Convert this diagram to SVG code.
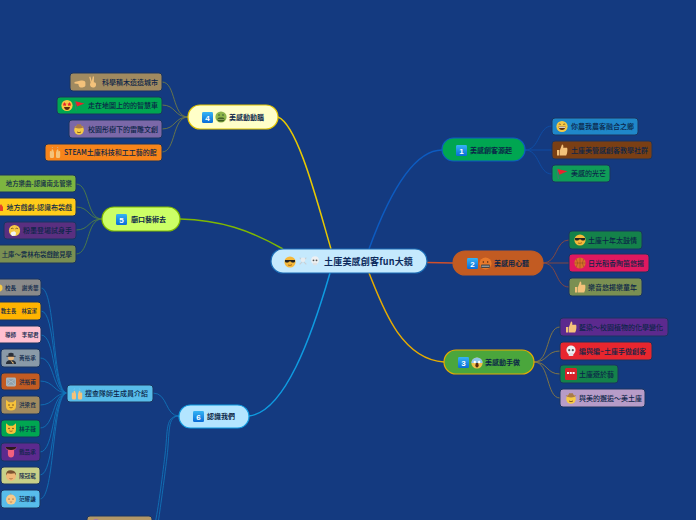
<svg xmlns="http://www.w3.org/2000/svg" width="696" height="520" viewBox="0 0 696 520">
<style>
text{font-family:"Noto Sans CJK TC","Noto Sans CJK SC","Liberation Sans",sans-serif;font-size:7px;font-weight:500;fill:#0b2548}
.m{font-size:7px;font-weight:700}
.s{font-size:5.6px}
.n{font-size:6.4px}
.p{font-size:5.2px}
.c{font-size:9px;font-weight:700;fill:#0c2a5c;letter-spacing:.2px}
.k{font-size:8px;font-weight:700;fill:#fff;text-anchor:middle;font-family:"Liberation Sans",sans-serif}
.e{text-anchor:end}
.leaf{stroke:#1b3560;stroke-width:1}
.main{stroke-width:1.2}
#connectors path{fill:none}
.t1{stroke-width:1.5}
.t2{stroke-width:.9}
</style>
<defs>
<linearGradient id="kg" x1="0" y1="0" x2="0" y2="1"><stop offset="0" stop-color="#35b4f4"/><stop offset="1" stop-color="#0a6cd8"/></linearGradient>
<symbol id="key" viewBox="0 0 12 12"><rect width="12" height="12" rx="1.5" fill="url(#kg)"/></symbol>
<symbol id="cool" viewBox="0 0 12 12"><circle cx="6" cy="6" r="5.6" fill="#f6b93a"/><path d="M1 4h10v1.4c-.6 1.6-3.4 1.6-4 0h-2c-.6 1.6-3.4 1.6-4 0z" fill="#222"/><path d="M4 9q2 1 4-.3" stroke="#8a4a10" fill="none" stroke-width=".7"/></symbol>
<symbol id="skull" viewBox="0 0 12 12"><circle cx="6" cy="5" r="4.6" fill="#eef0f2"/><rect x="3.6" y="8" width="4.8" height="3" rx=".8" fill="#dfe2e5"/><circle cx="4.2" cy="5.2" r="1.1" fill="#555"/><circle cx="7.8" cy="5.2" r="1.1" fill="#555"/></symbol>
<symbol id="bones" viewBox="0 0 12 12"><path d="M2 2l8 8M10 2l-8 8" stroke="#c8d0d6" stroke-width="1.4"/><circle cx="6" cy="4.6" r="2.8" fill="#e8ecef"/></symbol>
<symbol id="grin" viewBox="0 0 12 12"><circle cx="6" cy="6" r="5.6" fill="#f6c945"/><path d="M2.6 6h6.8q-.4 3.6-3.4 3.6T2.6 6z" fill="#5a3010"/><path d="M3 6.2h6v1H3z" fill="#fff"/><path d="M2.8 4q1-1 2 0M7.2 4q1-1 2 0" stroke="#5a3010" fill="none" stroke-width=".7"/></symbol>
<symbol id="thumb" viewBox="0 0 12 12"><path d="M1 6h2.4v5.4H1zM4 6l2-5.4c1.4 0 1.6 1.4 1.2 3.2H11c.8 1 .4 6-.8 7.6H4z" fill="#f4c27a"/></symbol>
<symbol id="flag" viewBox="0 0 12 12"><path d="M1.4 1.4L11.4 3.8 3.4 7.2z" fill="#e9232e"/><path d="M1 1l1.4 10.4" stroke="#667" stroke-width=".7"/></symbol>
<symbol id="angry" viewBox="0 0 12 12"><circle cx="6" cy="6" r="5.6" fill="#e8792a"/><rect x="1.8" y="7" width="8.4" height="3.2" rx="1" fill="#444"/><path d="M2.4 8.5h7.2" stroke="#ddd" stroke-width=".7"/><circle cx="4" cy="4.6" r=".7" fill="#421"/><circle cx="8" cy="4.6" r=".7" fill="#421"/></symbol>
<symbol id="ball" viewBox="0 0 12 12"><circle cx="6" cy="6" r="5.6" fill="#d9702a"/><path d="M6 .4v11.2M.4 6h11.2M2.2 2q3 4 0 8M9.8 2q-3 4 0 8" stroke="#8a4a1c" fill="none" stroke-width=".5"/></symbol>
<symbol id="scream" viewBox="0 0 12 12"><circle cx="6" cy="6" r="5.6" fill="#f1c24a"/><path d="M.4 6a5.6 5.6 0 0 1 11.2 0z" fill="#8fc6ea"/><ellipse cx="6" cy="8.2" rx="1.6" ry="2.4" fill="#5a2a10"/><circle cx="3.8" cy="5" r="1.2" fill="#fff"/><circle cx="8.2" cy="5" r="1.2" fill="#fff"/></symbol>
<symbol id="sos" viewBox="0 0 12 12"><rect width="12" height="12" rx="1.5" fill="#d8232a"/><path d="M2 5h8" stroke="#fff" stroke-width="2" stroke-dasharray="2 .8"/></symbol>
<symbol id="cowboy" viewBox="0 0 12 12"><circle cx="6" cy="7" r="4.8" fill="#f6c945"/><path d="M.6 3q2 1.2 2.8 0 .6-2.6 2.6-1.6 2-1 2.6 1.6 .8 1.2 2.8 0-1 2.4-5.4 2.4T.6 3z" fill="#a87a4a"/><path d="M4 9q2 1.4 4 0" stroke="#5a3010" fill="none" stroke-width=".7"/></symbol>
<symbol id="sick" viewBox="0 0 12 12"><circle cx="6" cy="6" r="5.6" fill="#8fb54a"/><rect x="2.6" y="6.4" width="6.8" height="4" rx="1.6" fill="#3a5a20"/><path d="M3 8.4h6" stroke="#c8d88a" stroke-width=".6"/><circle cx="4" cy="4" r=".7" fill="#243"/><circle cx="8" cy="4" r=".7" fill="#243"/></symbol>
<symbol id="point" viewBox="0 0 12 12"><path d="M.5 5L7 3.6c1.6-.6 4.4 0 4.4 2v3c0 1.4-2.4 2-4.4 2-1.6 0-2.4-1.4-2.6-3.6L.5 6.4z" fill="#f4c27a"/></symbol>
<symbol id="peace" viewBox="0 0 12 12"><path d="M3.4 .6l1.4 5 1-5.2h1.2l-.2 5.8c2 .2 2.4 1 2.2 3-.2 1.6-1.4 2.4-3 2.4s-3-1-3-3l.6-2.4L2.2 1z" fill="#f4c27a"/></symbol>
<symbol id="stars" viewBox="0 0 12 12"><circle cx="6" cy="6" r="5.6" fill="#f6c945"/><path d="M3.6 2.6l.7 1.4 1.4.2-1 1 .2 1.4-1.3-.7-1.3.7.2-1.4-1-1 1.4-.2zM8.4 2.6l.7 1.4 1.4.2-1 1 .2 1.4-1.3-.7-1.3.7.2-1.4-1-1 1.4-.2z" fill="#e5232e"/><path d="M3 7.6h6q-.6 3-3 3t-3-3z" fill="#5a2a10"/></symbol>
<symbol id="hands" viewBox="0 0 12 12"><path d="M.8 5.4c0-1 1.4-1.4 1.8-.4V3.4c0-1 1.4-1 1.6 0l.8 2.6v4c0 1-.6 1.6-1.6 1.6H2.4C1.2 11.6.8 10.6.8 9.4zM11.2 5.4c0-1-1.4-1.4-1.8-.4V3.4c0-1-1.4-1-1.6 0L7 6v4c0 1 .6 1.6 1.6 1.6h1c1.2 0 1.6-1 1.6-2.2z" fill="#f4c27a"/><path d="M3 1.6l.6-1M9 1.6l-.6-1" stroke="#9fd6ef" stroke-width=".6"/></symbol>
<symbol id="sneeze" viewBox="0 0 12 12"><circle cx="6" cy="6" r="5.6" fill="#f6c945"/><path d="M2.6 4.2q1.2-1 2.4 0M7 4.2q1.2-1 2.4 0" stroke="#5a3010" fill="none" stroke-width=".7"/><path d="M3 7.4l2.8-.6 1.8 1.4-.6 2.8-3.4.4-1.6-2z" fill="#f2f4f6"/></symbol>
<symbol id="spy" viewBox="0 0 12 12"><path d="M1 12c0-3 2-4 5-4s5 1 5 4z" fill="#2a2f38"/><circle cx="6" cy="5.6" r="3" fill="#e8b87e"/><path d="M1.4 3.8h9.2v.9H1.4zM3.4 4V1.4Q6 .2 8.6 1.4V4z" fill="#2a2f38"/><path d="M6 8.4l3 2.6-1 1-2-3z" fill="#f4c27a"/></symbol>
<symbol id="robot" viewBox="0 0 12 12"><rect x="1" y="2" width="10" height="9" rx="1.4" fill="#a8b4bc"/><rect x="2.4" y="3.6" width="7.2" height="5.6" fill="#8fa0ac"/><path d="M2.4 3.6l3.6 3 3.6-3M2.4 9.2l2.6-3M9.6 9.2l-2.6-3" stroke="#cdd6dc" stroke-width=".5" fill="none"/></symbol>
<symbol id="cat" viewBox="0 0 12 12"><path d="M1 .8l3 2.4h4l3-2.4V7q0 4.6-5 4.6T1 7z" fill="#f6c23a"/><circle cx="4" cy="6" r=".7" fill="#5a3010"/><circle cx="8" cy="6" r=".7" fill="#5a3010"/><path d="M4.4 8.4q1.6 1 3.2 0" stroke="#5a3010" fill="none" stroke-width=".6"/></symbol>
<symbol id="tongue" viewBox="0 0 12 12"><path d="M.5 1h11c0 1.6-1 2.6-2.4 2.8V8c0 2.4-1.4 3.6-3.1 3.6S2.9 10.4 2.9 8V3.8C1.5 3.6.5 2.6.5 1z" fill="#f2607e"/><path d="M.5 1h11c-.4 2-2.4 3-5.500 3S.9 3 .5 1z" fill="#2a1a20"/></symbol>
<symbol id="boy" viewBox="0 0 12 12"><circle cx="6" cy="6.400" r="5" fill="#f0b878"/><path d="M1 6Q.8 .6 6 .8T11 6L9.600 3.800Q6 4.600 2.400 3.800z" fill="#7a5230"/><path d="M4.400 9q1.600 1 3.200 0" stroke="#8a4a20" fill="none" stroke-width=".6"/></symbol>
<symbol id="baby" viewBox="0 0 12 12"><circle cx="6" cy="6.600" r="5" fill="#f6c98a"/><path d="M6 1.600q-1-.8 0-1.400" stroke="#c08a50" fill="none" stroke-width=".6"/><circle cx="4" cy="6" r=".6" fill="#5a3010"/><circle cx="8" cy="6" r=".6" fill="#5a3010"/><path d="M4.800 8.800q1.200.8 2.400 0" stroke="#a05a30" fill="none" stroke-width=".6"/></symbol>
</defs>
<rect width="696" height="520" fill="#143a80"/>
<g id="connectors">
<path class="t1" stroke="#0d5bc0" d="M369 249C385 205 410 150 442 150"/>
<path class="t1" stroke="#d0502a" d="M427 262.500L453 263"/>
<path class="t1" stroke="#e6ac00" d="M369 273C382 305 400 359 444 362"/>
<path class="t1" stroke="#e8c800" d="M331 249C318 205 298 125 278 117"/>
<path class="t1" stroke="#7fb800" d="M283 249C250 230 220 220 180 219"/>
<path class="t1" stroke="#0f9be0" d="M330 273C312 335 285 412 249 416"/>
<g class="t2" stroke="#0e4fa8">
<path d="M525 150C540 150 538 126 552 126"/><path d="M525 150H552"/><path d="M525 150C540 150 538 174 552 174"/>
</g>
<g class="t2" stroke="#8d4a3c">
<path d="M543 263C558 263 555 240 569 240"/><path d="M543 263H569"/><path d="M543 263C558 263 555 287 569 287"/>
</g>
<g class="t2" stroke="#8a7a40">
<path d="M534 362C550 362 546 327 560 327"/><path d="M534 362C548 362 546 351 560 351"/><path d="M534 362C548 362 546 374 560 374"/><path d="M534 362C550 362 546 398 560 398"/>
</g>
<g class="t2" stroke="#6f7a44">
<path d="M188 117C172 117 176 82 162 82"/><path d="M188 117C174 117 176 105 162 105"/><path d="M188 117C174 117 176 129 162 129"/><path d="M188 117C172 117 176 152 162 152"/>
</g>
<g class="t2" stroke="#4f7f44">
<path d="M102 219C86 219 90 184 76 184"/><path d="M102 219C88 219 90 207 76 207"/><path d="M102 219C88 219 90 230 76 230"/><path d="M102 219C86 219 90 254 76 254"/>
</g>
<g class="t2" stroke="#1173b8">
<path d="M179 416C165 416 168 393 153 393"/>
<path d="M179 416C165 416 168 430 165 455S158 510 155 524"/>
<path d="M179 416C167 416 170 432 167 457S160 510 158 524"/>
<path d="M67 393C52 393 56 288 41 288"/><path d="M67 393C52 393 56 311 41 311"/><path d="M67 393C52 393 56 335 41 335"/><path d="M67 393C52 393 55 358 40 358"/><path d="M67 393C54 393 54 381 40 381"/><path d="M67 393C54 393 54 405 40 405"/><path d="M67 393C52 393 55 428 40 428"/><path d="M67 393C52 393 55 452 40 452"/><path d="M67 393C52 393 55 475 40 475"/><path d="M67 393C52 393 55 499 40 499"/>
</g>
</g>

<g id="center"><rect class="main" x="271" y="249" width="156" height="24" rx="12" fill="#c5e9fd" stroke="#1a6cb5"/><use href="#cool" x="284" y="256" width="12" height="12"/><use href="#bones" x="298" y="256" width="10" height="10"/><use href="#skull" x="310" y="256" width="10" height="10"/><text class="c" x="324" y="264.500">土庫美感創客fun大鏡</text></g>

<g id="n1"><rect class="main" x="442" y="138" width="83" height="23" rx="11.500" fill="#00a651" stroke="#0d5bc0"/><use href="#key" x="456" y="145" width="11" height="11"/><text class="k" x="461.500" y="153.500">1</text><text class="m" x="470" y="152.500">美感創客源起</text></g>
<g id="n1a"><rect class="leaf" x="552" y="118" width="86" height="17" rx="3" fill="#1f87c9"/><use href="#grin" x="556" y="120.500" width="12" height="12"/><text x="571" y="129">你農我農客融合之鄉</text></g>
<g id="n1b"><rect class="leaf" x="552" y="141" width="100" height="18" rx="3" fill="#7a3f14"/><use href="#thumb" x="556" y="144" width="12" height="12"/><text x="571" y="152.500">土庫美管感創客教學社群</text></g>
<g id="n1c"><rect class="leaf" x="552" y="165" width="58" height="17" rx="3" fill="#0f9d58"/><use href="#flag" x="556" y="167.500" width="12" height="12"/><text x="571" y="176">美感的光芒</text></g>

<g id="n2"><rect class="main" x="453" y="251" width="90" height="24" rx="12" fill="#c25b22" stroke="#c25b22"/><use href="#key" x="467" y="258" width="11" height="11"/><text class="k" x="472.500" y="266.500">2</text><use href="#angry" x="479" y="257" width="13" height="13"/><text class="m" x="494" y="265.500">美感用心聽</text></g>
<g id="n2a"><rect class="leaf" x="569" y="231" width="73" height="18" rx="3" fill="#14824a"/><use href="#cool" x="574" y="234" width="12" height="12"/><text x="588" y="242.500">土庫十年太鼓情</text></g>
<g id="n2b"><rect class="leaf" x="569" y="254" width="80" height="18" rx="3" fill="#e0185f"/><use href="#ball" x="574" y="257" width="12" height="12"/><text x="588" y="265.500">日光稻香陶笛悠揚</text></g>
<g id="n2c"><rect class="leaf" x="569" y="278" width="73" height="18" rx="3" fill="#7a8f52"/><use href="#thumb" x="574" y="281" width="12" height="12"/><text x="588" y="289.500">樂音悠揚樂童年</text></g>

<g id="n3"><rect class="main" x="444" y="350" width="90" height="24" rx="12" fill="#4aa63c" stroke="#e6ac00"/><use href="#key" x="458" y="357" width="11" height="11"/><text class="k" x="463.500" y="365.500">3</text><use href="#scream" x="471" y="357" width="12" height="12"/><text class="m" x="485" y="364.500">美感動手做</text></g>
<g id="n3a"><rect class="leaf" x="560" y="318" width="108" height="18" rx="3" fill="#5c2a8e"/><use href="#thumb" x="565" y="321" width="12" height="12"/><text x="579" y="329.500">藍染～校園植物的化學變化</text></g>
<g id="n3b"><rect class="leaf" x="560" y="342" width="92" height="18" rx="3" fill="#e8262e"/><use href="#skull" x="565" y="345" width="12" height="12"/><text x="579" y="353.500">編與編~土庫手做創客</text></g>
<g id="n3c"><rect class="leaf" x="560" y="365" width="58" height="18" rx="3" fill="#14824a"/><use href="#sos" x="565" y="368" width="12" height="12"/><text x="579" y="376.500">土庫遊於藝</text></g>
<g id="n3d"><rect class="leaf" x="560" y="389" width="85" height="18" rx="3" fill="#b79cc8"/><use href="#cowboy" x="565" y="392" width="12" height="12"/><text x="579" y="400.500">與美的邂逅～美土庫</text></g>

<g id="n4"><rect class="main" x="188" y="105" width="90" height="24" rx="12" fill="#ffffc8" stroke="#e0c400"/><use href="#key" x="202" y="112" width="11" height="11"/><text class="k" x="207.500" y="120.500">4</text><use href="#sick" x="215" y="111" width="12" height="12"/><text class="m" x="229" y="119.500">美感動動腦</text></g>
<g id="n4a"><rect class="leaf" x="70" y="73" width="92" height="18" rx="3" fill="#a08a60"/><use href="#point" x="74" y="77" width="12" height="12"/><use href="#peace" x="87" y="76" width="12" height="12"/><text x="102" y="84.500">科學積木造造城市</text></g>
<g id="n4b"><rect class="leaf" x="57" y="97" width="105" height="17" rx="3" fill="#00a651"/><use href="#stars" x="61" y="99.500" width="12" height="12"/><use href="#flag" x="74" y="100" width="11" height="11"/><text x="88" y="108">走在地圖上的的智慧車</text></g>
<g id="n4c"><rect class="leaf" x="69" y="120" width="93" height="18" rx="3" fill="#7b68a8"/><use href="#cowboy" x="73" y="123" width="12" height="12"/><text x="88" y="131.500">校園彤樹下的雷雕文創</text></g>
<g id="n4d"><rect class="leaf" x="45" y="144" width="117" height="17" rx="3" fill="#f7841a"/><use href="#hands" x="49" y="146.500" width="12" height="12"/><text x="64" y="155">STEAM土庫科技和工工藝的館</text></g>

<g id="n5"><rect class="main" x="102" y="207" width="78" height="24" rx="12" fill="#ccff66" stroke="#7fb800"/><use href="#key" x="116" y="214" width="11" height="11"/><text class="k" x="121.500" y="222.500">5</text><text class="m" x="131" y="221.500">廟口藝術去</text></g>
<g id="n5a"><rect class="leaf" x="-12" y="175" width="88" height="17" rx="3" fill="#7db540"/><text class="e n" x="72" y="186">地方樂曲-認識南北管樂</text></g>
<g id="n5b"><rect class="leaf" x="-12" y="198" width="88" height="18" rx="3" fill="#ffcc1a"/><path d="M-1 207h4v4h-4zM1 204l2 3h-4z" fill="#e8402a"/><text class="e" x="72" y="209.500">地方戲劇-認識布袋戲</text></g>
<g id="n5c"><rect class="leaf" x="4" y="222" width="72" height="17" rx="3" fill="#5a2f80"/><use href="#sneeze" x="8.500" y="224.500" width="12" height="12"/><text x="23" y="233">粉墨登場試身手</text></g>
<g id="n5d"><rect class="leaf" x="-12" y="245" width="88" height="18" rx="3" fill="#7a8f52"/><text class="e n" x="72" y="256.500">土庫～雲林布袋戲館見學</text></g>

<g id="n6"><rect class="main" x="179" y="405" width="70" height="23" rx="11.500" fill="#b3e5ff" stroke="#0f9be0"/><use href="#key" x="193" y="411" width="11" height="11"/><text class="k" x="198.500" y="419.500">6</text><text class="m" x="207" y="419">認識我們</text></g>
<g id="n6a"><rect class="leaf" x="67" y="385" width="86" height="17" rx="3" fill="#58bdea"/><use href="#hands" x="71" y="388" width="12" height="12"/><text x="85" y="396">搜查隊師生成員介紹</text></g>
<g id="n6b"><rect class="leaf" x="87" y="516" width="65" height="18" rx="3" fill="#b39868"/><circle cx="96" cy="522" r="3" fill="#a070b0"/></g>

<g id="p1"><rect class="leaf" x="-10" y="279" width="51" height="17" rx="3" fill="#8a8a8a"/><circle cx="-1" cy="288" r="3.500" fill="#f6c945"/><text class="s" x="5" y="289.500">校長　謝秀華</text></g>
<g id="p2"><rect class="leaf" x="-10" y="302" width="51" height="18" rx="3" fill="#ffb300"/><text class="p e" x="37" y="313">教主長　林宜潔</text></g>
<g id="p3"><rect class="leaf" x="-10" y="326" width="51" height="17" rx="3" fill="#ffc0d0"/><text class="s" x="5" y="336.500">導師　李郁君</text></g>
<g id="p4"><rect class="leaf" x="1" y="349" width="39" height="18" rx="3" fill="#8a9aa8"/><use href="#spy" x="5" y="352" width="12" height="12"/><text class="s" x="19" y="360">黃裕承</text></g>
<g id="p5"><rect class="leaf" x="1" y="373" width="39" height="17" rx="3" fill="#c25b22"/><use href="#robot" x="5" y="375.500" width="12" height="12"/><text class="s" x="19" y="383.500">洪裕甫</text></g>
<g id="p6"><rect class="leaf" x="1" y="396" width="39" height="18" rx="3" fill="#a08a60"/><use href="#cat" x="5" y="399" width="12" height="12"/><text class="s" x="19" y="407">洪梁霓</text></g>
<g id="p7"><rect class="leaf" x="1" y="420" width="39" height="17" rx="3" fill="#00a651"/><use href="#cat" x="5" y="422.500" width="12" height="12"/><text class="s" x="19" y="430.500">林子薇</text></g>
<g id="p8"><rect class="leaf" x="1" y="443" width="39" height="18" rx="3" fill="#5c2a8e"/><use href="#tongue" x="5" y="446" width="12" height="12"/><text class="s" x="19" y="454">戴品承</text></g>
<g id="p9"><rect class="leaf" x="1" y="467" width="39" height="17" rx="3" fill="#c8d088"/><use href="#boy" x="5" y="469.500" width="12" height="12"/><text class="s" x="19" y="477.500">陳冠龍</text></g>
<g id="p10"><rect class="leaf" x="1" y="490" width="39" height="18" rx="3" fill="#58bdea"/><use href="#baby" x="5" y="493" width="12" height="12"/><text class="s" x="19" y="501">范耀謙</text></g>
</svg>
